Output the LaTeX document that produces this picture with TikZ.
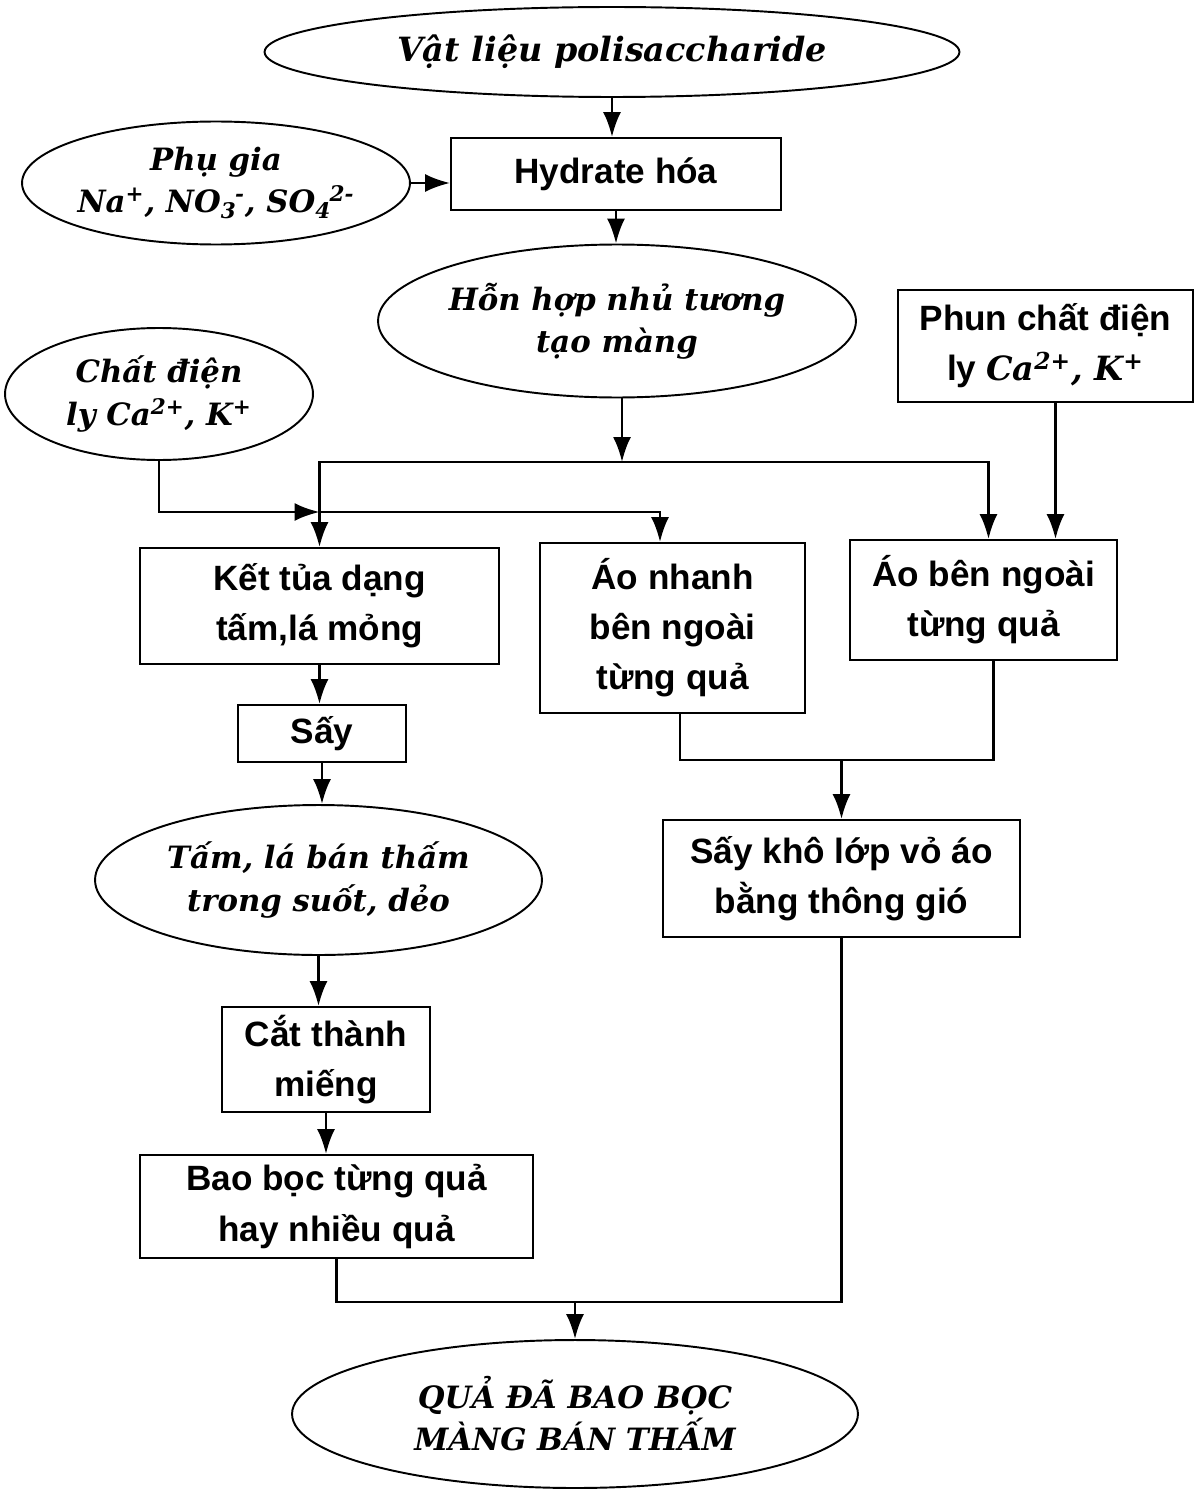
\documentclass[tikz,border=0pt]{standalone}
\usepackage{fontspec}
\setmainfont{DejaVu Serif}
\newfontfamily\boxfont{Liberation Sans}
\usetikzlibrary{shapes.geometric,arrows.meta}
\newcommand\ionscript[2]{\textsubscript{#1}\kern-0.05em\textsuperscript{#2}}
\newcommand\ovalfont{\rmfamily\fontsize{17.5}{24}\selectfont\bfseries\itshape}
\tikzset{
	oval/.style={draw,ellipse,line width=1.1pt,inner xsep=-1.5cm,inner ysep=-0.4cm,align=center,font=\ovalfont},
	boite/.style={draw,rectangle,line width=1.1pt,inner sep=0pt,align=center,font=\boxfont\bfseries\fontsize{20}{28.5}\selectfont},
	fleche/.style={line width=1.5pt,-{Latex[length=5mm,width=3.6mm]}},
	trait/.style={line width=1.5pt}
}
\begin{document}
\begin{tikzpicture}[x=0.02cm,y=-0.02cm]
				\useasboundingbox (0,0) rectangle (1198,1490);
				% ovals
				\node[oval,font=\ovalfont\fontsize{19}{24}\selectfont,minimum width=13.9cm,minimum height=1.8cm] (vatlieu) at (612,52) {Vật liệu polisaccharide};
				\node[oval,minimum width=7.76cm,minimum height=2.46cm] (phugia) at (216,183) {Phụ gia\\Na\textsuperscript{+}, NO\ionscript{3}{-}, SO\ionscript{4}{2-}};
				\node[oval,minimum width=9.56cm,minimum height=3.06cm] (honhop) at (617,321) {Hỗn hợp nhủ tương\\tạo màng};
				\node[oval,minimum width=6.16cm,minimum height=2.64cm] (chatdien) at (159,394) {Chất điện\\ly Ca\textsuperscript{2+}, K\textsuperscript{+}};
				\node[oval,minimum width=8.94cm,minimum height=3cm] (tam) at (318.5,880) {Tấm, lá bán thấm\\trong suốt, dẻo};
				\node[oval,minimum width=11.32cm,minimum height=2.96cm] (qua) at (575,1414) {QUẢ ĐÃ BAO BỌC\\MÀNG BÁN THẤM};
				% boxes
				\node[boite,minimum width=6.6cm,minimum height=1.44cm] (hydrate) at (616,174) {Hydrate hóa};
				\node[boite,minimum width=5.9cm,minimum height=2.24cm] (phun) at (1045.5,346) {Phun chất điện\\ly {\ovalfont\fontsize{19}{24}\selectfont Ca\textsuperscript{2+}, K\textsuperscript{+}}};
				\node[boite,minimum width=7.18cm,minimum height=2.32cm] (kettua) at (319.5,606) {Kết tủa dạng\\tấm,lá mỏng};
				\node[boite,minimum width=5.3cm,minimum height=3.4cm] (aonhanh) at (672.5,628) {Áo nhanh\\bên ngoài\\từng quả};
				\node[boite,minimum width=5.34cm,minimum height=2.4cm] (aongoai) at (983.5,600) {Áo bên ngoài\\từng quả};
				\node[boite,minimum width=3.36cm,minimum height=1.14cm] (say) at (322,733.5) {Sấy};
				\node[boite,minimum width=4.16cm,minimum height=2.1cm] (cat) at (326,1059.5) {Cắt thành\\miếng};
				\node[boite,minimum width=7.86cm,minimum height=2.06cm] (bao) at (336.5,1206.5) {Bao bọc từng quả\\hay nhiều quả};
				\node[boite,minimum width=7.14cm,minimum height=2.34cm] (saykho) at (841.5,878.5) {Sấy khô lớp vỏ áo\\bằng thông gió};
				% junctions
				\coordinate (hub) at (622,462);
				\coordinate (cross) at (kettua.north |- 0,512);
				\coordinate (mid1) at (saykho.north |- 0,760);
				\coordinate (mid2) at (qua.north |- 0,1302);
				% arrows
				\draw[fleche] (vatlieu.south) -- (vatlieu.south |- hydrate.north);
				\draw[fleche] (phugia.east) -- (phugia.east -| hydrate.west);
				\draw[fleche] (hydrate.south) -- (hydrate.south |- honhop.north);
				\draw[fleche] (honhop.south -| hub) -- (hub);
				\draw[fleche] (hub) -| (kettua.north);
				\draw[fleche] (hub) -| ([xshift=0.1cm]aongoai.north);
				\draw[fleche] ([xshift=0.2cm]phun.south) -- ([xshift=0.2cm]phun.south |- aongoai.north);
				\draw[fleche] (chatdien.south) |- (cross);
				\draw[fleche] (cross) -| ([xshift=-0.25cm]aonhanh.north);
				\draw[fleche] (kettua.south) -- (kettua.south |- say.north);
				\draw[fleche] (say.south) -- (say.south |- tam.north);
				\draw[fleche] (tam.south) -- (tam.south |- cat.north);
				\draw[fleche] (cat.south) -- (cat.south |- bao.north);
				\draw[trait] ([xshift=0.15cm]aonhanh.south) |- (mid1) -| ([xshift=0.2cm]aongoai.south);
				\draw[fleche] (mid1) -- (saykho.north);
				\draw[trait] (bao.south) |- (mid2) -| (saykho.south);
				\draw[fleche] (mid2) -- (qua.north);
\end{tikzpicture}
\end{document}
